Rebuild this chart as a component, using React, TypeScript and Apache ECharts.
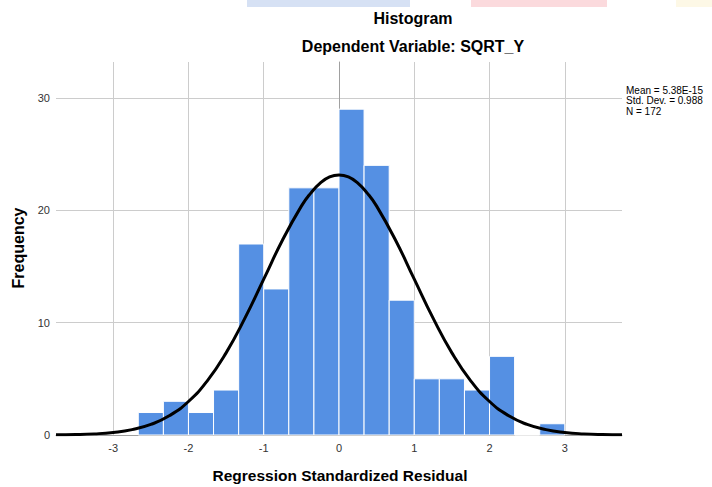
import React, { useEffect, useRef } from "react";
import * as echarts from "echarts";

const binEdges = [
  -2.667, -2.333, -2.0, -1.667, -1.333, -1.0, -0.667, -0.333, 0.0, 0.333, 0.667,
  1.0, 1.333, 1.667, 2.0, 2.333, 2.667, 3.0,
];
const frequencies = [2, 3, 2, 4, 17, 13, 22, 22, 29, 24, 12, 5, 5, 4, 7, 0, 1];

const curveX = [
  -3.76, -3.5, -3.25, -3.0, -2.75, -2.5, -2.25, -2.0, -1.75, -1.5, -1.25, -1.0, -0.75,
  -0.5, -0.375, -0.25, -0.125, 0.0, 0.125, 0.25, 0.375, 0.5, 0.75, 1.0, 1.25, 1.5, 1.75,
  2.0, 2.25, 2.5, 2.75, 3.0, 3.25, 3.5, 3.76,
];
const curveY = [
  0.02, 0.04, 0.1, 0.23, 0.48, 0.94, 1.73, 2.98, 4.82, 7.31, 10.4, 13.87, 17.36, 20.37,
  21.53, 22.42, 22.97, 23.15, 22.97, 22.42, 21.53, 20.37, 17.36, 13.87, 10.4, 7.31, 4.82,
  2.98, 1.73, 0.94, 0.48, 0.23, 0.1, 0.04, 0.02,
];

const xTicks = [-3, -2, -1, 0, 1, 2, 3];
const yTicks = [0, 10, 20, 30];

const titleText = "Histogram";
const subtitleText = "Dependent Variable: SQRT_Y";
const xAxisName = "Regression Standardized Residual";
const yAxisName = "Frequency";
const statsLines = ["Mean = 5.38E-15", "Std. Dev. = 0.988", "N = 172"];

export default function App() {
  const ref = useRef<HTMLDivElement>(null);

  useEffect(() => {
    if (!ref.current) return;
    const chart = echarts.init(ref.current, undefined, { renderer: "svg" });

    const barData = frequencies.map((f, i) => [binEdges[i], binEdges[i + 1], f]);
    const lineData = curveX.map((x, i) => [x, curveY[i]]);

    const font = "Arial, 'Liberation Sans', sans-serif";

    chart.setOption({
      animation: false,
      backgroundColor: "#ffffff",
      grid: { left: 56, right: 90, top: 62, bottom: 52, containLabel: false },
      xAxis: {
        type: "value",
        min: -3.76,
        max: 3.76,
        axisLine: { show: true, lineStyle: { color: "#a0a0a0", width: 1 } },
        axisTick: { show: false, customValues: xTicks },
        axisLabel: {
          customValues: xTicks,
          color: "#333333",
          fontSize: 11,
          fontFamily: font,
          margin: 7,
        },
        splitLine: { show: true, lineStyle: { color: "#cccccc", width: 1 } },
      },
      yAxis: {
        type: "value",
        min: 0,
        max: 33.2,
        axisLine: { show: true, lineStyle: { color: "#a0a0a0", width: 1 } },
        axisTick: { show: false, customValues: yTicks },
        axisLabel: {
          customValues: yTicks,
          color: "#333333",
          fontSize: 11,
          fontFamily: font,
          margin: 6,
        },
        splitLine: { show: true, lineStyle: { color: "#cccccc", width: 1 } },
      },
      series: [
        {
          type: "custom",
          data: barData,
          encode: { x: [0, 1], y: 2 },
          renderItem: (params: any, api: any) => {
            const lo = api.value(0);
            const hi = api.value(1);
            const v = api.value(2);
            const p0 = api.coord([lo, 0]);
            const p1 = api.coord([hi, v]);
            return {
              type: "rect",
              shape: { x: p0[0], y: p1[1], width: p1[0] - p0[0], height: p0[1] - p1[1] },
              style: { fill: "#5590e3", stroke: "#ffffff", lineWidth: 1 },
            };
          },
          z: 2,
        },
        {
          type: "line",
          data: lineData,
          smooth: true,
          showSymbol: false,
          symbol: "none",
          lineStyle: { color: "#000000", width: 3 },
          z: 3,
        },
      ],
      graphic: [
        { type: "rect", shape: { x: 247, y: 0, width: 163, height: 7 }, style: { fill: "#d6e1f4" } },
        { type: "rect", shape: { x: 471, y: 0, width: 136, height: 7 }, style: { fill: "#fbdadd" } },
        { type: "rect", shape: { x: 676, y: 0, width: 36, height: 7 }, style: { fill: "#fdf8e6" } },
        {
          type: "text",
          x: 413,
          y: 18,
          style: {
            text: titleText,
            fontSize: 16,
            fontWeight: "bold",
            fontFamily: font,
            fill: "#000000",
            align: "center",
            verticalAlign: "middle",
          },
        },
        {
          type: "text",
          x: 413,
          y: 46,
          style: {
            text: subtitleText,
            fontSize: 16,
            fontWeight: "bold",
            fontFamily: font,
            fill: "#000000",
            align: "center",
            verticalAlign: "middle",
          },
        },
        {
          type: "text",
          x: 340,
          y: 475,
          style: {
            text: xAxisName,
            fontSize: 15.5,
            fontWeight: "bold",
            fontFamily: font,
            fill: "#000000",
            align: "center",
            verticalAlign: "middle",
          },
        },
        {
          type: "text",
          x: 18,
          y: 248,
          rotation: Math.PI / 2,
          style: {
            text: yAxisName,
            fontSize: 16,
            fontWeight: "bold",
            fontFamily: font,
            fill: "#000000",
            align: "center",
            verticalAlign: "middle",
          },
        },
        {
          type: "text",
          x: 626,
          y: 85,
          style: {
            text: statsLines.join("\n"),
            fontSize: 10,
            lineHeight: 10.5,
            fontFamily: font,
            fill: "#000000",
            align: "left",
            verticalAlign: "top",
          },
        },
      ],
    });

    return () => chart.dispose();
  }, []);

  return <div ref={ref} style={{ width: 712, height: 487, position: "absolute", left: 0, top: 0 }} />;
}
